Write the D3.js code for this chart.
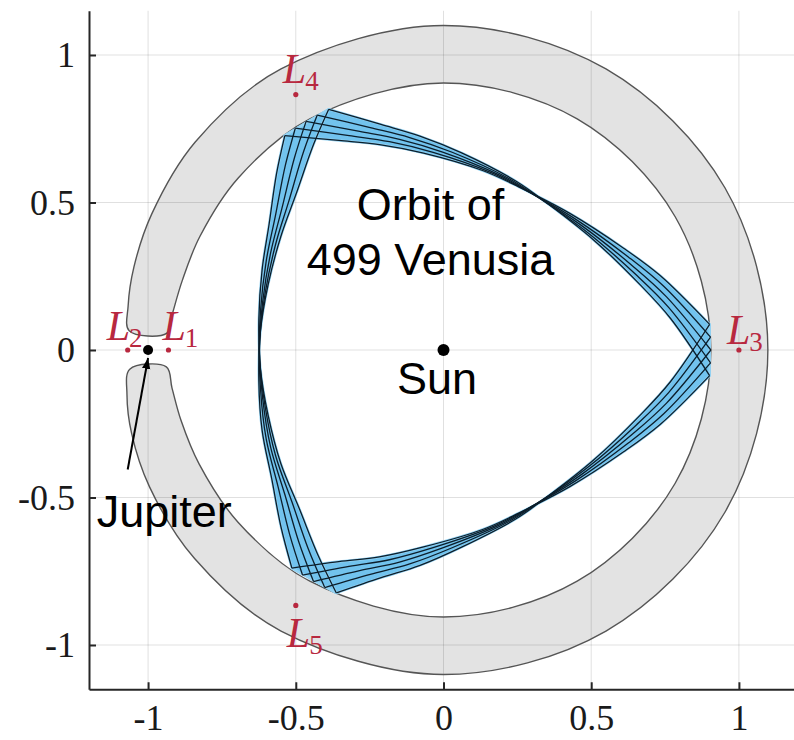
<!DOCTYPE html>
<html><head><meta charset="utf-8">
<script src="https://cdn.jsdelivr.net/npm/d3@7"></script>
<style>body{margin:0;background:#fff;overflow:hidden} svg{display:block}</style>
</head><body>
<svg id="c" width="794" height="740"></svg>
<script>
// ---------------- data ----------------
const xDomain = [-1.2, 1.2];
const yDomain = [-1.15, 1.15];
const xTicks = [-1, -0.5, 0, 0.5, 1];
const yTicks = [-1, -0.5, 0, 0.5, 1];
const xTickLabels = ["-1", "-0.5", "0", "0.5", "1"];
const yTickLabels = ["-1", "-0.5", "0", "0.5", "1"];

// horseshoe (co-orbital) region, polar samples: angle (deg), outer and inner radius
const shoeAngle = [-176.5, -172, -165, -155, -140, -120, -90, -60, -30, 0, 30, 60, 90, 120, 140, 155, 165, 172, 176.5];
const shoeOuter = [1.064, 1.082, 1.093, 1.098, 1.1, 1.1, 1.1, 1.1, 1.1, 1.098, 1.1, 1.1, 1.1, 1.1, 1.097, 1.09, 1.085, 1.078, 1.066];
const shoeInner = [0.94, 0.928, 0.92, 0.913, 0.908, 0.905, 0.905, 0.905, 0.905, 0.905, 0.905, 0.905, 0.905, 0.905, 0.907, 0.91, 0.915, 0.925, 0.938];

// orbit of 499 Venusia (rotating frame), reference pass, three sides vertex to vertex
const orbitSideA = [[-0.465, 0.775], [-0.284, 0.741], [-0.149, 0.714], [-0.003, 0.671], [0.19, 0.593], [0.308, 0.525], [0.47, 0.42], [0.64, 0.285], [0.755, 0.18], [0.905, 0.0]];
const orbitSideB = [[0.905, 0.0], [0.755, -0.18], [0.64, -0.285], [0.47, -0.42], [0.308, -0.525], [0.19, -0.593], [-0.003, -0.671], [-0.149, -0.719], [-0.284, -0.748], [-0.44, -0.785]];
const orbitSideC = [[-0.44, -0.785], [-0.49, -0.65], [-0.537, -0.49], [-0.585, -0.33], [-0.612, -0.165], [-0.623, 0.0], [-0.612, 0.165], [-0.585, 0.33], [-0.547, 0.48], [-0.505, 0.65], [-0.465, 0.775]];
// libration of the successive passes (deg)
const librationDeg = [-5.5, -2.75, 0, 2.75, 5.5];

// Lagrange points
const lagrangeNames = ["1", "2", "3", "4", "5"];
const lagrangeX = [-0.931, -1.069, 1.0, -0.5, -0.5];
const lagrangeY = [0, 0, 0, 0.866, -0.866];

// bodies
const sunPos = [0, 0];
const jupiterPos = [-1, 0];

// annotations
const annotText = ["Orbit of", "499 Venusia", "Sun", "Jupiter"];
const annotX = [-0.044, -0.044, -0.022, -1.174];
const annotY = [0.44, 0.254, -0.149, -0.60];
const arrowFrom = [-1.069, -0.405];
const arrowTo = [-1.0, -0.027];

// ---------------- drawing ----------------
const svg = d3.select("#c");
const x = d3.scaleLinear().domain(xDomain).range([89, 798]);
const y = d3.scaleLinear().domain(yDomain).range([689.25, 10.75]);
const rad = d => d * Math.PI / 180;

// horseshoe region
const outerPts = shoeAngle.map((a, i) => [shoeOuter[i] * Math.cos(rad(a)), shoeOuter[i] * Math.sin(rad(a))]);
const innerPts = shoeAngle.map((a, i) => [shoeInner[i] * Math.cos(rad(a)), shoeInner[i] * Math.sin(rad(a))]).reverse();
const shoeLine = d3.line().x(d => x(d[0])).y(d => y(d[1])).curve(d3.curveCatmullRomClosed.alpha(0.5));
const shoeD = shoeLine(outerPts.concat(innerPts));
svg.append("path").attr("d", shoeD).attr("fill", "#e3e3e3").attr("stroke", "none");

// grid
const grid = svg.append("g").attr("stroke", "rgba(0,0,0,0.12)").attr("stroke-width", 1);
xTicks.forEach(t => grid.append("line").attr("x1", x(t)).attr("x2", x(t)).attr("y1", y(yDomain[1])).attr("y2", y(yDomain[0])));
yTicks.forEach(t => grid.append("line").attr("y1", y(t)).attr("y2", y(t)).attr("x1", x(xDomain[0])).attr("x2", x(xDomain[1])));

svg.append("path").attr("d", shoeD).attr("fill", "none").attr("stroke", "#555").attr("stroke-width", 1.4);

// orbit family
const rot = (p, a) => [p[0] * Math.cos(rad(a)) - p[1] * Math.sin(rad(a)), p[0] * Math.sin(rad(a)) + p[1] * Math.cos(rad(a))];
const orbLine = d3.line().x(d => x(d[0])).y(d => y(d[1])).curve(d3.curveCatmullRom.alpha(0.5));
const sides = [orbitSideA, orbitSideB, orbitSideC];
const aMin = d3.min(librationDeg), aMax = d3.max(librationDeg);
const fillG = svg.append("g");
sides.forEach(s => {
  const p1 = s.map(p => rot(p, aMin));
  const p2 = s.map(p => rot(p, aMax)).reverse();
  const d = orbLine(p1) + "L" + orbLine(p2).slice(1) + "Z";
  fillG.append("path").attr("d", d).attr("fill", "#72c3ee").attr("stroke", "#92d2f3")
    .attr("stroke-width", 2.5).attr("stroke-linejoin", "round").attr("fill-rule", "nonzero");
});
const lineG = svg.append("g").attr("fill", "none").attr("stroke", "#0c1e2b").attr("stroke-width", 1.3).attr("stroke-linejoin", "round");
librationDeg.forEach(a => {
  sides.forEach(s => lineG.append("path").attr("d", orbLine(s.map(p => rot(p, a)))));
});

// Lagrange points
const red = "#b8283f";
const lOff = [[-6, -10], [-21, -10], [-12, -6], [-13, -11.5], [-9, 42]];
lagrangeNames.forEach((n, i) => {
  const cx = x(lagrangeX[i]), cy = y(lagrangeY[i]);
  svg.append("circle").attr("cx", cx).attr("cy", cy).attr("r", 2.6).attr("fill", red);
  const t = svg.append("text").attr("x", cx + lOff[i][0]).attr("y", cy + lOff[i][1])
    .attr("font-family", "'Liberation Serif', 'Times New Roman', serif").attr("fill", red);
  t.append("tspan").attr("font-style", "italic").attr("font-size", 42).text("L");
  t.append("tspan").attr("font-size", 27).attr("dx", -1).attr("dy", 7).text(n);
});

// bodies
svg.append("circle").attr("cx", x(sunPos[0])).attr("cy", y(sunPos[1])).attr("r", 6).attr("fill", "#000");
svg.append("circle").attr("cx", x(jupiterPos[0])).attr("cy", y(jupiterPos[1])).attr("r", 5).attr("fill", "#000");

// arrow
svg.append("defs").append("marker").attr("id", "ah").attr("markerUnits", "userSpaceOnUse")
  .attr("markerWidth", 12).attr("markerHeight", 10).attr("refX", 11).attr("refY", 5).attr("orient", "auto")
  .append("path").attr("d", "M0,0.8L11,5L0,9.2Z").attr("fill", "#000");
svg.append("line").attr("x1", x(arrowFrom[0])).attr("y1", y(arrowFrom[1])).attr("x2", x(arrowTo[0])).attr("y2", y(arrowTo[1]))
  .attr("stroke", "#000").attr("stroke-width", 2).attr("marker-end", "url(#ah)");

// annotation texts
annotText.forEach((s, i) => {
  svg.append("text").attr("x", x(annotX[i])).attr("y", y(annotY[i]))
    .attr("text-anchor", s === "Jupiter" ? "start" : "middle")
    .attr("font-family", "'Liberation Sans', Arial, Helvetica, sans-serif").attr("font-size", 45).attr("fill", "#000").text(s);
});

// axes
const fmtX = d => xTickLabels[xTicks.indexOf(d)];
const fmtY = d => yTickLabels[yTicks.indexOf(d)];
const ax = svg.append("g").attr("transform", `translate(0,${y(yDomain[0])})`)
  .call(d3.axisBottom(x).tickValues(xTicks).tickFormat(fmtX).tickSizeInner(-7).tickSizeOuter(0).tickPadding(15));
const ay = svg.append("g").attr("transform", `translate(${x(xDomain[0])},0)`)
  .call(d3.axisLeft(y).tickValues(yTicks).tickFormat(fmtY).tickSizeInner(-7).tickSizeOuter(0).tickPadding(14));
[ax, ay].forEach(g => {
  g.select(".domain").attr("stroke", "#262626").attr("stroke-width", 2);
  g.selectAll(".tick line").attr("stroke", "#262626").attr("stroke-width", 2);
  g.selectAll(".tick text").attr("font-family", "'Liberation Serif', 'Times New Roman', serif").attr("font-size", 36).attr("fill", "#1a1a1a");
});
</script>
</body></html>
